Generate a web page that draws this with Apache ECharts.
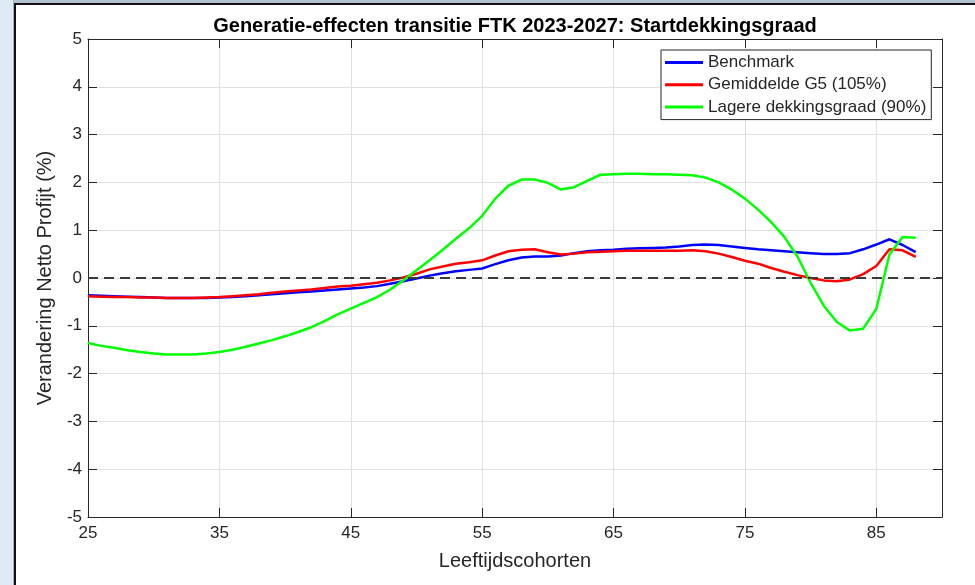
<!DOCTYPE html>
<html>
<head>
<meta charset="utf-8">
<title>Generatie-effecten transitie FTK 2023-2027</title>
<script src="https://cdn.jsdelivr.net/npm/echarts@6/dist/echarts.min.js"></script>
<style>
	html, body { margin: 0; padding: 0; background: #fff; }
	#wrap { position: relative; width: 975px; height: 585px; overflow: hidden; }
	#sideBar { position: absolute; left: 0; top: 0; width: 13px; height: 585px; background: #deeaf6; border-right: 1px solid #a9b3bd; }
	#topBar { position: absolute; left: 14px; top: 0; width: 961px; height: 3px; background: #b3c2d2; }
	#frameLeft { position: absolute; left: 14px; top: 3px; width: 2px; height: 582px; background: #111; }
	#frameTop { position: absolute; left: 14px; top: 3px; width: 961px; height: 2px; background: #111; }
	#main { position: absolute; left: 0; top: 0; width: 975px; height: 585px; }
</style>
</head>
<body>
<div id="wrap">
	<div id="sideBar"></div>
	<div id="topBar"></div>
	<div id="frameLeft"></div>
	<div id="frameTop"></div>
	<div id="main"></div>
</div>
<script>
// leeftijden 25 t/m 90 (as), data loopt t/m 88
var ages = [];
for (var a = 25; a <= 90; a++) {
	ages.push(String(a));
}

var benchmark = [
	-0.36, -0.37, -0.38, -0.39, -0.40, -0.41, -0.42, -0.42, -0.42, -0.42,
	-0.41, -0.40, -0.38, -0.36, -0.34, -0.32, -0.30, -0.28, -0.26, -0.24,
	-0.22, -0.20, -0.17, -0.12, -0.07, -0.01, 0.05, 0.10, 0.14, 0.17,
	0.20, 0.29, 0.37, 0.43, 0.45, 0.45, 0.47, 0.52, 0.56, 0.58,
	0.59, 0.61, 0.62, 0.63, 0.64, 0.66, 0.69, 0.70, 0.69, 0.66,
	0.63, 0.60, 0.58, 0.56, 0.54, 0.52, 0.50, 0.50, 0.52, 0.60,
	0.70, 0.81, 0.69, 0.54
];

var gemiddeldeG5 = [
	-0.38, -0.39, -0.40, -0.40, -0.41, -0.41, -0.42, -0.42, -0.42, -0.41,
	-0.40, -0.38, -0.36, -0.34, -0.31, -0.28, -0.26, -0.24, -0.21, -0.18,
	-0.16, -0.13, -0.10, -0.05, 0.01, 0.09, 0.18, 0.24, 0.30, 0.33,
	0.37, 0.47, 0.56, 0.59, 0.60, 0.54, 0.49, 0.51, 0.54, 0.55,
	0.56, 0.57, 0.57, 0.57, 0.57, 0.57, 0.58, 0.56, 0.51, 0.44,
	0.36, 0.30, 0.21, 0.13, 0.06, 0.00, -0.05, -0.07, -0.03, 0.08,
	0.25, 0.60, 0.58, 0.44
];

var lagereDekking = [
	-1.36, -1.42, -1.46, -1.51, -1.55, -1.58, -1.60, -1.60, -1.60, -1.58,
	-1.55, -1.50, -1.44, -1.37, -1.30, -1.22, -1.13, -1.03, -0.90, -0.76,
	-0.64, -0.52, -0.40, -0.24, -0.05, 0.16, 0.37, 0.59, 0.82, 1.04,
	1.30, 1.66, 1.93, 2.06, 2.06, 1.99, 1.85, 1.90, 2.03, 2.16,
	2.17, 2.18, 2.18, 2.17, 2.17, 2.16, 2.15, 2.10, 2.00, 1.85,
	1.66, 1.43, 1.17, 0.86, 0.45, -0.10, -0.58, -0.92, -1.10, -1.06,
	-0.65, 0.49, 0.86, 0.84
];

var seriesNames = ['Benchmark', 'Gemiddelde G5 (105%)', 'Lagere dekkingsgraad (90%)'];
var seriesColors = ['#0000ff', '#ff0000', '#00ff00'];

var axisColor = '#262626';
var gridColor = '#e0e0e0';
var fontName = '"Liberation Sans", Arial, Helvetica, sans-serif';

function everyTen(index) {
	return index % 10 === 0;
}

function makeLine(name, color, values, withZero) {
	var s = {
		name: name,
		type: 'line',
		symbol: 'none',
		xAxisIndex: 0,
		yAxisIndex: 0,
		color: color,
		lineStyle: { color: color, width: 2.5 },
		data: values
	};
	if (withZero) {
		s.markLine = {
			silent: true,
			symbol: 'none',
			label: { show: false },
			lineStyle: { color: '#3a3a3a', width: 2, type: [10, 6] },
			data: [{ yAxis: 0 }]
		};
	}
	return s;
}

function drawChart() {
	var chart = echarts.init(document.getElementById('main'), null, { renderer: 'canvas' });
	var option = {
		animation: false,
		backgroundColor: 'transparent',
		textStyle: { fontFamily: fontName },
		title: {
			text: 'Generatie-effecten transitie FTK 2023-2027: Startdekkingsgraad',
			left: 515,
			textAlign: 'center',
			top: 16,
			padding: 0,
			textStyle: { fontFamily: fontName, fontSize: 20, fontWeight: 'bold', color: '#000' }
		},
		legend: {
			orient: 'vertical',
			left: 661,
			top: 50,
			padding: [4, 5, 4, 4],
			itemGap: 5.3,
			itemWidth: 38,
			itemHeight: 3,
			icon: 'rect',
			backgroundColor: '#fff',
			borderColor: axisColor,
			borderWidth: 1,
			textStyle: { fontFamily: fontName, fontSize: 17, lineHeight: 17, color: '#262626' },
			data: seriesNames
		},
		grid: { left: 88, top: 39, width: 854, height: 478, containLabel: false },
		xAxis: [{
			type: 'category',
			data: ages,
			boundaryGap: false,
			position: 'bottom',
			name: 'Leeftijdscohorten',
			nameLocation: 'middle',
			nameGap: 34,
			nameTextStyle: { fontFamily: fontName, fontSize: 20, color: axisColor },
			axisLine: { show: true, onZero: false, lineStyle: { color: axisColor, width: 1 } },
			axisTick: { show: true, inside: true, length: 9, interval: everyTen, lineStyle: { color: axisColor } },
			axisLabel: { interval: everyTen, margin: 8, fontFamily: fontName, fontSize: 17, color: axisColor },
			splitLine: { show: true, interval: everyTen, lineStyle: { color: gridColor, width: 1 } }
		}, {
			type: 'category',
			data: ages,
			boundaryGap: false,
			position: 'top',
			axisLine: { show: true, onZero: false, lineStyle: { color: axisColor, width: 1 } },
			axisTick: { show: true, inside: true, length: 9, interval: everyTen, lineStyle: { color: axisColor } },
			axisLabel: { show: false },
			splitLine: { show: false }
		}],
		yAxis: [{
			type: 'value',
			min: -5,
			max: 5,
			interval: 1,
			position: 'left',
			name: 'Verandering Netto Profijt (%)',
			nameLocation: 'middle',
			nameGap: 33,
			nameMoveOverlap: false,
			nameTextStyle: { fontFamily: fontName, fontSize: 20, color: axisColor },
			axisLine: { show: true, onZero: false, lineStyle: { color: axisColor, width: 1 } },
			axisTick: { show: true, inside: true, length: 9, lineStyle: { color: axisColor } },
			axisLabel: { margin: 6, fontFamily: fontName, fontSize: 17, color: axisColor },
			splitLine: { show: true, lineStyle: { color: gridColor, width: 1 } }
		}, {
			type: 'value',
			min: -5,
			max: 5,
			interval: 1,
			position: 'right',
			axisLine: { show: true, onZero: false, lineStyle: { color: axisColor, width: 1 } },
			axisTick: { show: true, inside: true, length: 9, lineStyle: { color: axisColor } },
			axisLabel: { show: false },
			splitLine: { show: false }
		}],
		series: [
			makeLine(seriesNames[0], seriesColors[0], benchmark, true),
			makeLine(seriesNames[1], seriesColors[1], gemiddeldeG5, false),
			makeLine(seriesNames[2], seriesColors[2], lagereDekking, false)
		]
	};
	chart.setOption(option);
}

drawChart();
</script>
</body>
</html>
